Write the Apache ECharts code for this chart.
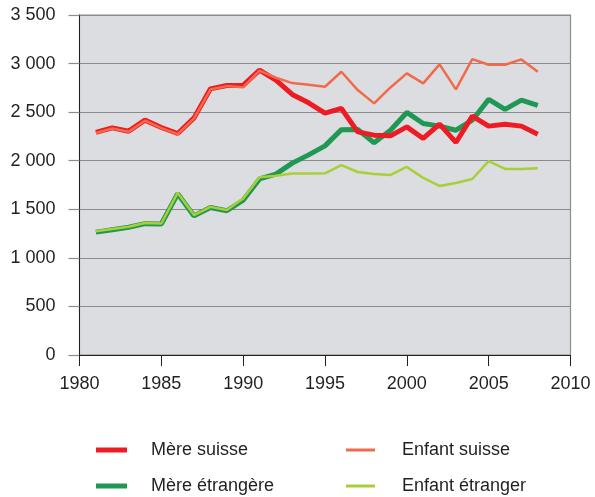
<!DOCTYPE html>
<html>
<head>
<meta charset="utf-8">
<script src="https://cdn.jsdelivr.net/npm/echarts@6/dist/echarts.min.js"></script>
<style>
  html, body { margin: 0; padding: 0; background: #fff; }
  #chart { width: 595px; height: 497px; }
</style>
</head>
<body>
<div id="chart"></div>
<script>
const years = [1981, 1982, 1983, 1984, 1985, 1986, 1987, 1988, 1989, 1990,
  1991, 1992, 1993, 1994, 1995, 1996, 1997, 1998, 1999, 2000,
  2001, 2002, 2003, 2004, 2005, 2006, 2007, 2008]

const mereSuisse = [2291, 2338, 2304, 2418, 2342, 2280, 2441, 2740, 2775, 2775,
  2933, 2830, 2682, 2596, 2490, 2538, 2297, 2263, 2256, 2348,
  2229, 2376, 2188, 2459, 2356, 2376, 2356, 2273]

const mereEtrangere = [1265, 1290, 1315, 1352, 1348, 1660, 1432, 1518, 1485, 1593,
  1812, 1862, 1975, 2060, 2153, 2320, 2321, 2184, 2314, 2497,
  2383, 2356, 2314, 2417, 2631, 2528, 2624, 2569]

const enfantSuisse = [2285, 2332, 2298, 2412, 2336, 2274, 2435, 2733, 2768, 2755,
  2928, 2854, 2799, 2782, 2761, 2916, 2727, 2590, 2754, 2899,
  2796, 2992, 2734, 3046, 2988, 2988, 3043, 2916]

const enfantEtranger = [1275, 1297, 1320, 1358, 1354, 1668, 1440, 1525, 1492, 1610,
  1830, 1846, 1868, 1868, 1870, 1954, 1884, 1864, 1854, 1936,
  1823, 1740, 1771, 1812, 1995, 1915, 1915, 1923]

const yTicks = [0, 500, 1000, 1500, 2000, 2500, 3000, 3500]

const pairs = (vals) => years.map((y, i) => [y, vals[i]])
const fmtThousands = (v) => String(v).replace(/\B(?=(\d{3})+(?!\d))/g, ' ')

const textColor = '#231f20'
const font = 'Liberation Sans, Arial, Helvetica, sans-serif'

const chart = echarts.init(document.getElementById('chart'))

chart.setOption({
  animation: false,
  grid: {
    left: 79.5, right: 24.5, top: 15, bottom: 142,
    show: true,
    backgroundColor: '#dcdde0',
    borderColor: '#8c8c8c',
    borderWidth: 1.2,
  },
  legend: [
    {
      data: ['Mère suisse', 'Mère étrangère'],
      orient: 'vertical',
      left: 96, top: 440, padding: 0,
      icon: 'rect', itemWidth: 31, itemHeight: 5, itemGap: 16,
      textStyle: { color: textColor, fontSize: 18, fontFamily: font, lineHeight: 20, padding: [0, 0, 0, 19] },
    },
    {
      data: ['Enfant suisse', 'Enfant étranger'],
      orient: 'vertical',
      left: 346, top: 440, padding: 0,
      icon: 'rect', itemWidth: 29, itemHeight: 3, itemGap: 16,
      textStyle: { color: textColor, fontSize: 18, fontFamily: font, lineHeight: 20, padding: [0, 0, 0, 22] },
    },
  ],
  xAxis: {
    type: 'value',
    min: 1980, max: 2010, interval: 5,
    axisLine: { lineStyle: { color: '#231f20', width: 1 } },
    axisTick: { show: true, length: 11, lineStyle: { color: '#231f20' } },
    axisLabel: { color: textColor, fontSize: 18, fontFamily: font, margin: 20, formatter: (v) => String(v) },
    splitLine: { show: false },
  },
  yAxis: {
    type: 'value',
    min: yTicks[0], max: yTicks[yTicks.length - 1], interval: 500,
    axisLine: { show: true, lineStyle: { color: '#231f20', width: 1 } },
    axisTick: { show: true, length: 11, lineStyle: { color: '#8c8c8c', width: 1.2 } },
    axisLabel: { color: textColor, fontSize: 18, fontFamily: font, margin: 24, formatter: fmtThousands },
    splitLine: { lineStyle: { color: '#8c8c8c', width: 1.2 } },
  },
  series: [
    {
      name: 'Mère étrangère', type: 'line', data: pairs(mereEtrangere),
      showSymbol: false, color: '#1e9852',
      lineStyle: { width: 5, color: '#1e9852' }, z: 2,
    },
    {
      name: 'Mère suisse', type: 'line', data: pairs(mereSuisse),
      showSymbol: false, color: '#ed1c24',
      lineStyle: { width: 5, color: '#ed1c24' }, z: 3,
    },
    {
      name: 'Enfant suisse', type: 'line', data: pairs(enfantSuisse),
      showSymbol: false, color: '#f26a4b',
      lineStyle: { width: 2.5, color: '#f26a4b' }, z: 4,
    },
    {
      name: 'Enfant étranger', type: 'line', data: pairs(enfantEtranger),
      showSymbol: false, color: '#a8cf38',
      lineStyle: { width: 2.5, color: '#a8cf38' }, z: 4,
    },
  ],
})
</script>
</body>
</html>
